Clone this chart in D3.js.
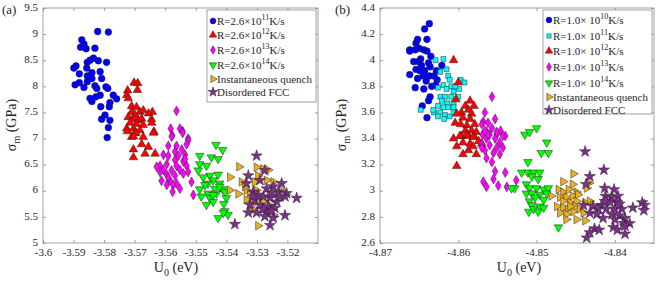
<!DOCTYPE html>
<html>
<head>
<meta charset="utf-8">
<script src="https://cdn.jsdelivr.net/npm/d3@7"></script>
<style>
  body { margin: 0; background: #fff; }
  svg { display: block; font-family: "Liberation Serif", "DejaVu Serif", serif; }
</style>
</head>
<body>
<script>
const width = 659;
const height = 281;

// ---- panel (a) data : [U0 (eV), sigma_m (GPa)] ----
const a_R11 = [[-3.5821,9.05],[-3.5786,9.04],[-3.5873,8.89],[-3.5866,8.81],[-3.5877,8.75],[-3.5859,8.72],[-3.583,8.73],
  [-3.5892,8.39],[-3.5899,8.35],[-3.5855,8.46],[-3.5835,8.54],[-3.5819,8.49],[-3.5857,8.35],[-3.5792,8.46],[-3.584,8.26],
  [-3.5813,8.28],[-3.5808,8.15],[-3.584,8.15],[-3.5855,8.2],[-3.5881,8.07],[-3.5895,8.03],[-3.5866,7.98],[-3.5855,8.09],
  [-3.583,8.01],[-3.5824,7.96],[-3.5794,7.99],[-3.5788,7.96],[-3.5813,7.83],[-3.5827,7.8],[-3.5846,7.77],[-3.584,7.71],
  [-3.577,7.83],[-3.5759,7.76],[-3.5781,7.69],[-3.5811,7.61],[-3.5783,7.61],[-3.5797,7.45],[-3.5808,7.37],[-3.5781,7.35],
  [-3.5786,7.21],[-3.579,7.02],[-3.5881,8.24],[-3.5846,8.5]];
const a_R12 = [[-3.5702,8.07],[-3.569,8.06],[-3.5691,7.93],[-3.5723,7.92],[-3.5726,7.83],[-3.5721,7.77],[-3.571,7.62],
  [-3.5694,7.6],[-3.571,7.51],[-3.5683,7.51],[-3.5672,7.54],[-3.5642,7.51],[-3.5655,7.48],[-3.5721,7.41],[-3.5699,7.45],
  [-3.5704,7.37],[-3.5688,7.35],[-3.5677,7.38],[-3.5645,7.37],[-3.5715,7.3],[-3.5694,7.28],[-3.5672,7.26],[-3.5644,7.3],
  [-3.5726,7.19],[-3.5704,7.19],[-3.5683,7.16],[-3.5699,7.1],[-3.5637,7.13],[-3.571,7.03],[-3.5724,7.14],[-3.5696,7.11],
  [-3.5704,7.04],[-3.5672,7.03],[-3.5638,7.11],[-3.5704,6.79],[-3.5677,6.89],[-3.5655,6.84],[-3.5666,6.71],[-3.5633,6.71],
  [-3.5704,6.64]];
const a_R13 = [[-3.5563,7.53],[-3.5582,7.19],[-3.5552,7.19],[-3.5543,7.14],[-3.5577,7.06],[-3.5525,7.0],[-3.5579,7.04],
  [-3.5543,7.11],[-3.5525,6.96],[-3.553,6.89],[-3.559,6.86],[-3.5563,6.86],[-3.5546,6.79],[-3.5568,6.75],[-3.5606,6.69],
  [-3.559,6.67],[-3.5557,6.67],[-3.5535,6.69],[-3.5568,6.59],[-3.5541,6.56],[-3.5595,6.51],[-3.5617,6.48],[-3.5563,6.48],
  [-3.553,6.48],[-3.5606,6.4],[-3.5579,6.39],[-3.5552,6.4],[-3.5525,6.36],[-3.5617,6.36],[-3.5595,6.31],[-3.5568,6.29],
  [-3.5541,6.33],[-3.5612,6.19],[-3.5585,6.2],[-3.5563,6.14],[-3.5514,6.17],[-3.5595,6.11],[-3.5574,6.11],[-3.5552,6.04],
  [-3.5576,5.98],[-3.5508,5.92],[-3.559,6.26],[-3.5628,6.46],[-3.5535,6.61]];
const a_R14 = [[-3.5434,6.88],[-3.5412,6.78],[-3.5487,6.67],[-3.5449,6.64],[-3.5427,6.61],[-3.5487,6.51],[-3.5465,6.48],
  [-3.5492,6.39],[-3.5454,6.29],[-3.5427,6.31],[-3.5476,6.26],[-3.5443,6.2],[-3.546,6.14],[-3.5422,6.14],[-3.5487,6.03],
  [-3.5438,6.04],[-3.5412,6.03],[-3.546,5.95],[-3.5432,5.95],[-3.5405,5.98],[-3.5482,5.89],[-3.5454,5.86],[-3.54,5.86],
  [-3.5465,5.73],[-3.5443,5.79],[-3.5408,5.75],[-3.5405,5.61],[-3.5394,5.54],[-3.5427,5.48],[-3.541,5.58],[-3.5422,6.08],
  [-3.547,6.11],[-3.5443,5.92]];
const a_inst = [[-3.5358,6.46],[-3.5388,6.26],[-3.535,6.17],[-3.5388,6.01],[-3.5361,5.94],[-3.5334,6.01],[-3.5301,6.45],
  [-3.5279,6.42],[-3.5263,6.4],[-3.5296,6.29],[-3.5307,6.17],[-3.5268,6.2],[-3.5246,6.17],[-3.5323,5.92],[-3.5301,6.01],
  [-3.5219,6.01],[-3.5334,5.83],[-3.5279,5.79],[-3.523,5.83],[-3.5312,5.64],[-3.5268,5.61],[-3.5246,5.54],[-3.5296,5.33],
  [-3.5317,5.73],[-3.529,5.89],[-3.5257,5.92],[-3.5339,6.08],[-3.5252,5.7]];
const a_fcc = [[-3.5301,6.67],[-3.5328,6.29],[-3.5274,6.39],[-3.529,6.2],[-3.5334,6.14],[-3.5219,6.14],[-3.5246,6.08],
  [-3.5268,6.04],[-3.5312,5.98],[-3.523,5.98],[-3.5203,5.95],[-3.517,5.86],[-3.5208,5.89],[-3.5279,5.89],[-3.5307,5.83],
  [-3.5257,5.86],[-3.5235,5.79],[-3.5323,5.73],[-3.529,5.73],[-3.5263,5.7],[-3.5241,5.67],[-3.5328,5.58],[-3.5301,5.58],
  [-3.5268,5.58],[-3.5252,5.61],[-3.5208,5.53],[-3.5372,5.36],[-3.5257,5.34],[-3.5246,5.48],[-3.5279,5.64],[-3.5296,5.92],
  [-3.5224,5.89],[-3.5274,5.51],[-3.5312,5.89],[-3.5252,5.95]];

// ---- panel (b) data ----
const b_R10 = [[-4.8637,4.28],[-4.8643,4.24],[-4.864,4.16],[-4.8652,4.16],[-4.8654,4.13],[-4.8662,4.08],[-4.8655,4.08],
  [-4.865,4.09],[-4.8644,4.08],[-4.864,4.07],[-4.8662,4.07],[-4.8648,4.01],[-4.8657,3.99],[-4.8651,3.99],[-4.8635,4.03],
  [-4.8638,3.98],[-4.8662,3.89],[-4.8654,3.93],[-4.8649,3.92],[-4.8643,3.92],[-4.8636,3.95],[-4.8628,3.92],[-4.8621,3.96],
  [-4.8652,3.86],[-4.8645,3.88],[-4.8637,3.88],[-4.8631,3.88],[-4.8641,3.84],[-4.8655,3.79],[-4.8644,3.78],[-4.8634,3.8],
  [-4.8629,3.81],[-4.8636,3.72],[-4.8638,3.69],[-4.8646,3.65],[-4.864,3.56],[-4.8627,3.85],[-4.8647,3.96]];
const b_R11 = [[-4.8629,4.0],[-4.8619,4.01],[-4.8615,3.93],[-4.8623,3.91],[-4.8613,3.88],[-4.8611,3.85],[-4.8609,3.8],
  [-4.8619,3.81],[-4.8626,3.79],[-4.8615,3.78],[-4.8606,3.76],[-4.8599,3.78],[-4.8597,3.85],[-4.8592,3.83],[-4.8604,3.8],
  [-4.8623,3.72],[-4.8617,3.72],[-4.8609,3.72],[-4.86,3.72],[-4.8621,3.69],[-4.8614,3.67],[-4.8606,3.67],[-4.8626,3.65],
  [-4.8619,3.64],[-4.8613,3.64],[-4.8606,3.64],[-4.8648,3.62],[-4.8631,3.6],[-4.8623,3.6],[-4.8617,3.58],[-4.8611,3.57],
  [-4.8618,3.55],[-4.8626,3.57],[-4.8606,3.6],[-4.8632,3.62]];
const b_R12 = [[-4.8606,4.0],[-4.86,3.83],[-4.8603,3.7],[-4.8585,3.69],[-4.8591,3.65],[-4.858,3.65],[-4.8587,3.62],
  [-4.8596,3.6],[-4.8583,3.59],[-4.8594,3.56],[-4.8585,3.55],[-4.8602,3.59],[-4.8604,3.52],[-4.8597,3.51],[-4.8589,3.5],
  [-4.8579,3.51],[-4.8591,3.46],[-4.8583,3.46],[-4.8577,3.45],[-4.8596,3.42],[-4.8587,3.42],[-4.858,3.42],[-4.8606,3.4],
  [-4.8598,3.42],[-4.8589,3.43],[-4.8581,3.41],[-4.8594,3.37],[-4.8585,3.36],[-4.8602,3.34],[-4.8587,3.31],[-4.8594,3.28],
  [-4.8577,3.28],[-4.857,3.36],[-4.8602,3.19],[-4.8581,3.34],[-4.8574,3.38]];
const b_R13 = [[-4.8557,3.72],[-4.8566,3.6],[-4.8568,3.53],[-4.8562,3.52],[-4.8553,3.55],[-4.857,3.51],[-4.8557,3.48],
  [-4.8546,3.46],[-4.8564,3.45],[-4.8551,3.43],[-4.854,3.42],[-4.8569,3.43],[-4.8566,3.46],[-4.856,3.43],[-4.8551,3.45],
  [-4.8543,3.42],[-4.8564,3.4],[-4.8553,3.4],[-4.8547,3.37],[-4.857,3.36],[-4.856,3.35],[-4.8551,3.33],[-4.8543,3.33],
  [-4.8566,3.31],[-4.8555,3.29],[-4.8547,3.28],[-4.8564,3.25],[-4.8557,3.22],[-4.8553,3.15],[-4.854,3.14],[-4.8568,3.07],
  [-4.8555,3.09],[-4.8549,3.04],[-4.8538,3.03],[-4.8564,3.03],[-4.8526,3.08],[-4.8562,3.43],[-4.857,3.33]];
const b_R14 = [[-4.8515,3.43],[-4.8509,3.45],[-4.85,3.48],[-4.8487,3.37],[-4.8494,3.29],[-4.8485,3.29],[-4.8511,3.22],
  [-4.8519,3.14],[-4.8511,3.14],[-4.8504,3.14],[-4.8496,3.14],[-4.8506,3.11],[-4.8498,3.09],[-4.8528,3.02],[-4.8532,3.02],
  [-4.8513,3.05],[-4.8509,3.02],[-4.85,3.02],[-4.8491,3.01],[-4.8485,3.02],[-4.8513,2.98],[-4.8506,2.98],[-4.8496,2.97],
  [-4.8487,2.98],[-4.8502,2.95],[-4.8509,2.92],[-4.8491,2.93],[-4.8506,2.89],[-4.8496,2.88],[-4.851,2.84],[-4.8504,2.86],
  [-4.8498,2.84],[-4.8491,2.87],[-4.8472,2.72]];
const b_inst = [[-4.8466,3.07],[-4.8453,3.13],[-4.8454,3.05],[-4.8472,3.01],[-4.8466,2.99],[-4.8459,3.01],[-4.8449,2.99],
  [-4.8481,2.96],[-4.847,2.95],[-4.8462,2.95],[-4.8454,2.96],[-4.8447,2.97],[-4.8466,2.92],[-4.8457,2.91],[-4.8449,2.92],
  [-4.8474,2.88],[-4.8466,2.87],[-4.846,2.86],[-4.8451,2.88],[-4.847,2.83],[-4.8462,2.82],[-4.8453,2.84],[-4.8445,2.86],
  [-4.8462,2.78],[-4.8449,2.78],[-4.8438,2.91],[-4.8432,2.92],[-4.8428,2.89],[-4.844,2.83],[-4.8433,3.06],[-4.8436,3.02],
  [-4.8457,2.88],[-4.8438,2.77]];
const b_fcc = [[-4.8438,3.3],[-4.8432,3.11],[-4.8414,3.16],[-4.8437,3.05],[-4.8413,3.02],[-4.8401,3.01],[-4.8412,2.96],
  [-4.8404,2.95],[-4.8396,2.96],[-4.8406,2.91],[-4.8397,2.91],[-4.8417,2.89],[-4.844,2.89],[-4.8428,2.88],[-4.8421,2.86],
  [-4.8411,2.86],[-4.84,2.86],[-4.8391,2.86],[-4.8432,2.83],[-4.8423,2.82],[-4.8404,2.82],[-4.8394,2.81],[-4.8387,2.79],
  [-4.8415,2.79],[-4.84,2.78],[-4.8389,2.75],[-4.8381,2.75],[-4.8402,2.72],[-4.8397,2.7],[-4.8387,2.73],[-4.8387,2.67],
  [-4.8426,2.71],[-4.842,2.7],[-4.8432,2.68],[-4.8436,2.64],[-4.8377,2.87],[-4.8365,2.91],[-4.8362,2.89],[-4.8363,2.85],
  [-4.8394,2.9],[-4.8413,2.92]];

// axes ticks
const ticksAX = [-3.6, -3.59, -3.58, -3.57, -3.56, -3.55, -3.54, -3.53, -3.52];
const ticksAY = [5, 5.5, 6, 6.5, 7, 7.5, 8, 8.5, 9, 9.5];
const ticksBX = [-4.87, -4.86, -4.85, -4.84];
const ticksBY = [2.6, 2.8, 3, 3.2, 3.4, 3.6, 3.8, 4, 4.2, 4.4];

// legend labels: [text, superscript, tail]
const legendA = [["R=2.6×10", "11", "K/s"], ["R=2.6×10", "12", "K/s"], ["R=2.6×10", "13", "K/s"],
  ["R=2.6×10", "14", "K/s"], ["Instantaneous quench"], ["Disordered FCC"]];
const legendB = [["R=1.0× 10", "10", "K/s"], ["R=1.0× 10", "11", "K/s"], ["R=1.0× 10", "12", "K/s"],
  ["R=1.0× 10", "13", "K/s"], ["R=1.0× 10", "14", "K/s"], ["Instantaneous quench"], ["Disordered FCC"]];

// marker styles
const mk = {
  circle:  { fill: '#0000ff', type: d3.symbolCircle, size: 36, rot: 0 },
  square:  { fill: '#00ffff', type: d3.symbolSquare, size: 24, rot: 0 },
  up:      { fill: '#ff0000', type: d3.symbolTriangle, size: 32, rot: 0 },
  diamond: { fill: '#ff00ff', type: d3.symbolDiamond, size: 28, rot: 0 },
  down:    { fill: '#00ff00', type: d3.symbolTriangle, size: 32, rot: 180 },
  right:   { fill: '#edb120', type: d3.symbolTriangle, size: 32, rot: 90 },
  star:    { fill: '#7e2f8e', type: d3.symbolStar, size: 40, rot: 0 }
};

const axisColor = '#8a8a8a';
const textColor = '#262626';

const svg = d3.select('body').append('svg')
    .attr('width', width)
    .attr('height', height);

function drawPanel(p) {
    const x = d3.scaleLinear().domain(p.xDomain).range([p.left, p.right]);
    const y = d3.scaleLinear().domain(p.yDomain).range([p.bottom, p.top]);
    const g = svg.append('g');

    // box
    g.append('rect')
        .attr('x', p.left).attr('y', p.top)
        .attr('width', p.right - p.left).attr('height', p.bottom - p.top)
        .attr('fill', 'none').attr('stroke', axisColor).attr('stroke-width', 0.8);

    const style = sel => {
        sel.select('.domain').remove();
        sel.selectAll('.tick line').attr('stroke', axisColor).attr('stroke-width', 0.8);
        sel.selectAll('.tick text').attr('fill', textColor)
            .attr('font-family', 'Liberation Serif').attr('font-size', 11);
    };
    g.append('g').attr('transform', `translate(0,${p.bottom})`)
        .call(d3.axisBottom(x).tickValues(p.xTicks).tickFormat(String).tickSizeInner(-3).tickSizeOuter(0).tickPadding(5))
        .call(style);
    g.append('g').attr('transform', `translate(0,${p.top})`)
        .call(d3.axisTop(x).tickValues(p.xTicks).tickFormat('').tickSizeInner(-3).tickSizeOuter(0))
        .call(style);
    g.append('g').attr('transform', `translate(${p.left},0)`)
        .call(d3.axisLeft(y).tickValues(p.yTicks).tickFormat(String).tickSizeInner(-3).tickSizeOuter(0).tickPadding(5))
        .call(style)
        .selectAll('.tick text').attr('dy', '0.2em');
    g.append('g').attr('transform', `translate(${p.right},0)`)
        .call(d3.axisRight(y).tickValues(p.yTicks).tickFormat('').tickSizeInner(-3).tickSizeOuter(0))
        .call(style);

    // points
    p.series.forEach(s => {
        const m = mk[s.marker];
        g.append('g').selectAll('path')
            .data(s.data)
            .enter().append('path')
            .attr('d', d3.symbol().type(m.type).size(m.size))
            .attr('transform', d => `translate(${x(d[0])},${y(d[1])}) rotate(${m.rot})`)
            .attr('fill', m.fill)
            .attr('stroke', '#222')
            .attr('stroke-width', 0.5);
    });

    // legend
    const lg = g.append('g');
    lg.append('rect')
        .attr('x', p.legend.x).attr('y', p.legend.y)
        .attr('width', p.legend.w).attr('height', p.legend.h)
        .attr('fill', '#fff').attr('stroke', axisColor).attr('stroke-width', 0.8);
    p.series.forEach((s, i) => {
        const m = mk[s.marker];
        const cy = p.legend.rows[i];
        lg.append('path')
            .attr('d', d3.symbol().type(m.type).size(m.size * 0.75)())
            .attr('transform', `translate(${p.legend.x + 6},${cy}) rotate(${m.rot})`)
            .attr('fill', m.fill).attr('stroke', '#222').attr('stroke-width', 0.5);
        const lab = s.label;
        const t = lg.append('text')
            .attr('x', p.legend.x + 10).attr('y', cy + 4)
            .attr('font-size', 11).attr('fill', textColor);
        t.append('tspan').text(lab[0]);
        if (lab.length > 1) {
            t.append('tspan').attr('dy', -5).attr('font-size', 8).text(lab[1]);
            t.append('tspan').attr('dy', 5).text(lab[2]);
        }
    });

    // axis labels
    const xl = g.append('text')
        .attr('x', p.xLabelX).attr('y', 272)
        .attr('text-anchor', 'middle').attr('font-size', 14).attr('fill', textColor);
    xl.append('tspan').text('U');
    xl.append('tspan').attr('dy', 4).attr('font-size', 10).text('0');
    xl.append('tspan').attr('dy', -4).text(' (eV)');

    const yl = g.append('text')
        .attr('transform', `translate(${p.yLabelX},125) rotate(-90)`)
        .attr('text-anchor', 'middle').attr('font-size', 14).attr('fill', textColor);
    yl.append('tspan').text('σ');
    yl.append('tspan').attr('dy', 4).attr('font-size', 10).text('m');
    yl.append('tspan').attr('dy', -4).text(' (GPa)');

    g.append('text')
        .attr('x', p.tagX).attr('y', 14)
        .attr('font-size', 13).attr('fill', textColor)
        .text(p.tag);
}

drawPanel({
    tag: '(a)', tagX: 2,
    left: 43, right: 318, top: 8, bottom: 243,
    xDomain: [-3.6, -3.51], yDomain: [5, 9.5],
    xTicks: ticksAX, yTicks: ticksAY,
    xLabelX: 176, yLabelX: 16,
    legend: { x: 207, y: 10, w: 109, h: 92, rows: [21, 35, 50, 65, 79, 92] },
    series: [
        { data: a_R11, marker: 'circle', label: legendA[0] },
        { data: a_R12, marker: 'up', label: legendA[1] },
        { data: a_R13, marker: 'diamond', label: legendA[2] },
        { data: a_R14, marker: 'down', label: legendA[3] },
        { data: a_inst, marker: 'right', label: legendA[4] },
        { data: a_fcc, marker: 'star', label: legendA[5] }
    ]
});

drawPanel({
    tag: '(b)', tagX: 335,
    left: 380, right: 654, top: 8, bottom: 243,
    xDomain: [-4.87, -4.835], yDomain: [2.6, 4.4],
    xTicks: ticksBX, yTicks: ticksBY,
    xLabelX: 519, yLabelX: 346,
    legend: { x: 543, y: 10, w: 109, h: 104, rows: [20, 36, 51, 67, 83, 97, 110] },
    series: [
        { data: b_R10, marker: 'circle', label: legendB[0] },
        { data: b_R11, marker: 'square', label: legendB[1] },
        { data: b_R12, marker: 'up', label: legendB[2] },
        { data: b_R13, marker: 'diamond', label: legendB[3] },
        { data: b_R14, marker: 'down', label: legendB[4] },
        { data: b_inst, marker: 'right', label: legendB[5] },
        { data: b_fcc, marker: 'star', label: legendB[6] }
    ]
});
</script>
</body>
</html>
